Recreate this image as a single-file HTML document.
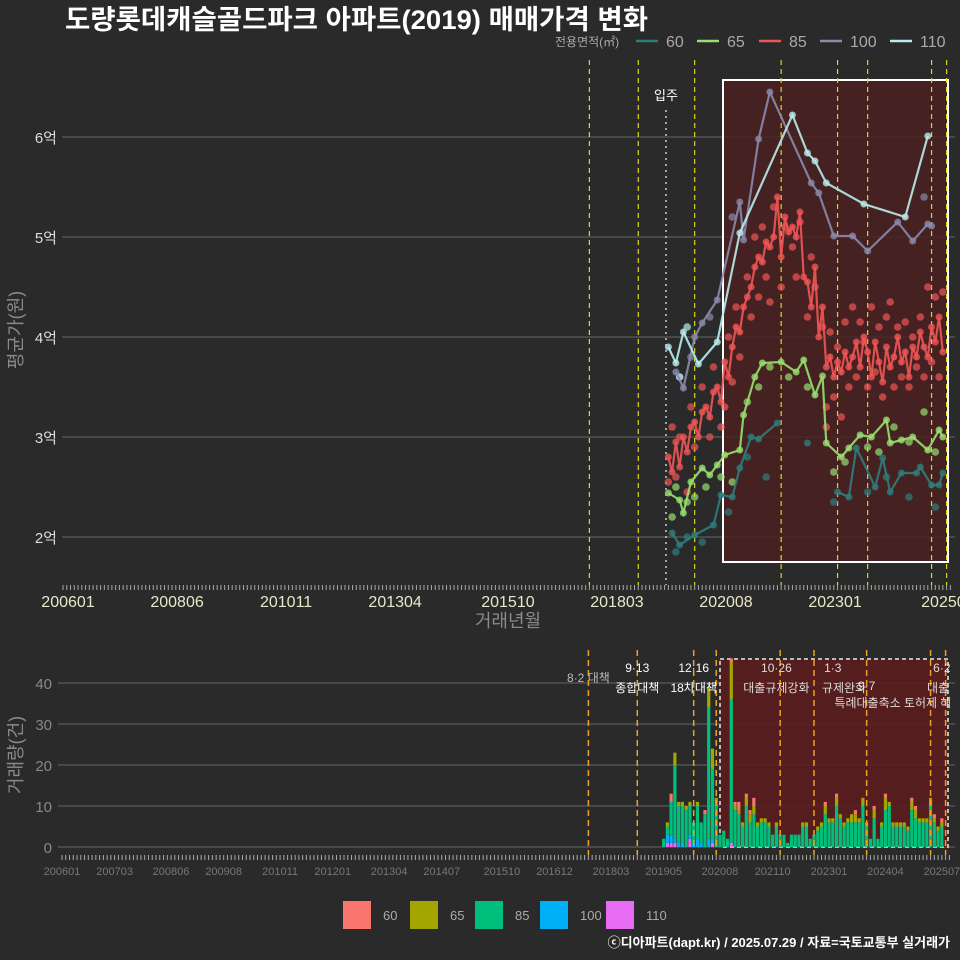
<!DOCTYPE html>
<html><head><meta charset="utf-8">
<style>
html,body{margin:0;padding:0;background:#2a2a2a;}
svg{display:block;font-family:"Liberation Sans","Noto Sans CJK KR",sans-serif;}
</style></head>
<body>
<svg id="chart" width="960" height="960" viewBox="0 0 960 960">
<rect x="0" y="0" width="960" height="960" fill="#2a2a2a"/>
<text x="65" y="29" fill="#ffffff" font-size="27" font-weight="bold" textLength="583" lengthAdjust="spacingAndGlyphs">도량롯데캐슬골드파크 아파트(2019) 매매가격 변화</text>
<g id="legendTop"></g>
<g id="topPanel"></g>
<g id="bottomPanel"></g>
<g id="legendBottom"></g>
<text x="950" y="947" text-anchor="end" fill="#ffffff" font-size="13" font-weight="bold">ⓒ디아파트(dapt.kr) / 2025.07.29 / 자료=국토교통부 실거래가</text>
</svg>
<script>
// ---------- data ----------
const areas = ["60","65","85","100","110"];
const lineColors = ["#2e7d7d","#98e070","#f05555","#8a8aac","#b8ecec"];
const barColors = ["#f8766d","#a3a500","#00bf7d","#00b0f6","#e76bf3"];
const topTickMonths = [0,29,58,87,117,146,175,204,234];
const topTickLabels = ["200601","200806","201011","201304","201510","201803","202008","202301","202507"];
const botTickMonths = [0,14,29,43,58,72,87,101,117,131,146,160,175,189,204,219,234];
const botTickLabels = ["200601","200703","200806","200908","201011","201201","201304","201407","201510","201612","201803","201905","202008","202110","202301","202404","202507"];
const yTicks = [2,3,4,5,6];
const yTickLabels = ["2억","3억","4억","5억","6억"];
const volTicks = [0,10,20,30,40];

const m60 = [162,164,168,173,175,178,180,183,185,190,198,206,209,211,216,218,220,223,227,228,231,233,234];
const v60 = [2.04,1.92,2.02,2.12,2.42,2.40,2.69,3.0,2.98,3.14,2.94,2.45,2.40,2.89,2.50,2.79,2.45,2.64,2.64,2.70,2.52,2.52,2.64];
const m65 = [161,164,165,167,170,172,174,176,180,181,184,186,191,195,197,200,202,203,207,209,212,215,219,220,223,226,230,233,234];
const v65 = [2.44,2.37,2.24,2.55,2.69,2.62,2.72,2.82,2.87,3.22,3.60,3.74,3.75,3.65,3.77,3.42,3.61,2.94,2.80,2.89,3.02,3.0,3.17,2.94,2.97,3.0,2.87,3.07,3.0];
const m85 = [161,162,163,164,165,166,167,168,169,170,171,172,173,174,175,176,177,178,179,180,181,182,183,184,185,186,187,188,189,190,191,192,193,194,195,196,197,198,199,200,201,202,203,204,205,206,207,208,209,210,211,212,213,214,215,216,217,218,219,220,221,222,223,224,225,226,227,228,229,230,231,232,233,234];
const v85 = [2.8,2.65,2.95,2.7,3.0,2.85,3.1,3.15,3.0,3.25,3.3,3.2,3.45,3.5,3.35,3.75,3.6,3.9,4.1,4.05,4.3,4.4,4.5,4.7,4.8,4.75,4.95,4.9,5.0,5.4,4.8,5.2,5.05,5.1,5.0,5.25,4.6,4.55,4.3,4.7,4.0,4.3,3.7,3.8,3.6,3.75,3.65,3.85,3.7,3.8,3.95,3.7,4.0,3.85,3.6,3.95,3.75,3.55,3.9,3.7,3.8,4.0,3.75,3.85,3.6,3.9,3.8,4.05,3.9,3.8,4.1,3.95,4.2,3.85];
const m100 = [163,165,168,170,174,180,181,185,188,199,201,205,210,214,222,226,230,231];
const v100 = [3.65,3.49,4.0,4.14,4.37,5.35,4.97,5.98,6.45,5.54,5.44,5.01,5.01,4.86,5.15,4.96,5.13,5.11];
const m110 = [161,163,165,169,174,180,194,198,200,203,213,224,230];
const v110 = [3.9,3.74,4.05,3.73,3.95,5.04,6.22,5.84,5.76,5.54,5.33,5.20,6.01];

const sm85 = [161,162,163,164,166,167,168,170,172,173,175,176,177,178,179,180,182,183,184,185,186,187,188,189,191,192,194,195,196,198,199,200,202,203,204,205,206,208,209,210,211,212,214,215,216,217,218,219,221,222,223,224,225,226,227,228,229,230,231,232,233,234,203,207,213,220];
const sv85 = [2.55,3.1,2.6,3.0,2.45,3.3,2.9,3.5,3.0,3.7,3.1,3.3,4.0,3.55,4.3,3.8,4.6,4.2,5.0,4.4,5.1,4.6,4.35,5.3,4.5,5.1,4.9,4.6,5.15,4.2,4.8,4.5,4.1,3.3,4.05,3.4,3.9,4.15,3.5,4.3,3.6,4.15,3.5,4.3,3.65,4.1,3.4,4.2,3.5,4.1,3.6,4.15,3.5,4.0,3.7,4.2,3.6,4.5,3.75,4.4,3.6,4.45,3.1,3.2,3.95,4.35];
const sm65 = [162,163,166,168,171,175,178,182,185,188,193,198,205,208,214,217,221,225,229,232];
const sv65 = [2.2,2.5,2.35,2.4,2.5,2.6,2.55,3.35,3.5,3.7,3.6,3.5,2.65,2.75,2.9,2.85,3.1,2.95,3.25,2.85];
const sm60 = [163,166,170,177,182,187,205,214,219,225,232];
const sv60 = [1.85,2.0,1.95,2.25,2.8,2.6,2.35,2.45,2.6,2.4,2.3];
const sm100 = [164,167,172,178,229];
const sv100 = [3.6,3.8,4.2,5.2,5.4];
const sm110 = [164,166];
const sv110 = [3.6,4.1];

const barMonths = [160,161,162,163,164,165,166,167,168,169,170,171,172,173,174,175,176,177,178,179,180,181,182,183,184,185,186,187,188,189,190,191,192,193,194,195,196,197,198,199,200,201,202,203,204,205,206,207,208,209,210,211,212,213,214,215,216,217,218,219,220,221,222,223,224,225,226,227,228,229,230,231,232,233,234];
const c60 = [0,0,2,0,0,0,0,0,0,0,0,1,0,0,0,0,0,0,1,1,2,0,1,1,2,0,0,0,0,0,0,0,0,0,0,0,0,0,0,0,0,0,0,1,0,0,1,0,0,0,0,1,0,0,0,0,1,0,0,1,0,0,0,0,0,0,1,1,0,0,0,0,1,0,1];
const c65 = [0,1,0,3,1,1,1,1,0,1,0,0,5,5,1,0,0,0,9,1,1,1,2,2,2,1,1,1,1,0,1,0,0,0,0,0,0,1,1,0,0,1,1,2,1,1,2,1,1,1,2,2,1,2,1,0,2,0,1,3,1,1,1,1,1,1,2,2,1,1,1,2,1,1,1];
const c85 = [2,2,8,18,9,9,9,7,5,8,5,8,32,17,11,3,4,2,35,9,8,5,10,6,8,5,6,6,5,3,5,3,3,1,3,3,3,5,5,2,3,4,5,8,6,6,10,7,5,6,6,6,6,10,5,2,7,2,5,9,10,5,5,5,5,4,9,7,6,6,6,10,6,4,5];
const c100 = [0,2,2,1,1,1,0,1,1,2,1,0,2,1,0,0,0,0,0,0,0,0,0,0,0,0,0,0,0,0,0,0,0,0,0,0,0,0,0,0,0,0,0,0,0,0,0,0,0,0,0,0,0,0,0,0,0,0,0,0,0,0,0,0,0,0,0,0,0,0,0,0,0,0,0];
const c110 = [0,1,1,1,0,0,0,2,0,0,0,0,0,1,0,0,0,0,1,0,0,0,0,0,0,0,0,0,0,0,0,0,0,0,0,0,0,0,0,0,0,0,0,0,0,0,0,0,0,0,0,0,0,0,0,0,0,0,0,0,0,0,0,0,0,0,0,0,0,0,0,0,0,0,0];

const topEventMonths = [140,153,168,191,206,214,231,235];
const botEventMonths = [140,153,168,174,191,200,214,231,235];
const eventLabels = [
 {m:140,t:"8·2 대책",y:682,c:"#bbbbbb"},
 {m:153,t:"9·13",y:672,c:"#ffffff"},
 {m:153,t:"종합대책",y:692,c:"#ffffff"},
 {m:168,t:"12·16",y:672,c:"#ffffff"},
 {m:168,t:"18차대책",y:692,c:"#ffffff"},
 {m:190,t:"10·26",y:672,c:"#dddddd"},
 {m:190,t:"대출규제강화",y:692,c:"#dddddd"},
 {m:205,t:"1·3",y:672,c:"#dddddd"},
 {m:208,t:"규제완화",y:692,c:"#dddddd"},
 {m:214,t:"9·7",y:690,c:"#dddddd"},
 {m:221,t:"특례대출축소 토허제 해",y:707,c:"#dddddd"},
 {m:234,t:"6·2",y:672,c:"#dddddd"},
 {m:233,t:"대출",y:692,c:"#dddddd"}
];

// ---------- scales ----------
const X = m => 63 + m*3.76;
const XB = m => 62 + m*3.76;
const Y = v => 737 - v*100;
const YB = c => 847 - c*4.1;
const NS = "http://www.w3.org/2000/svg";
function mk(tag, attrs, parent){const e=document.createElementNS(NS,tag);for(const k in attrs)e.setAttribute(k,attrs[k]);parent.appendChild(e);return e;}

// ---------- top panel ----------
const topG = document.getElementById('topPanel');
yTicks.forEach((v,i)=>{
  const g = mk('line',{x1:62,x2:955,y1:Y(v),y2:Y(v),stroke:'#5a5a5a','stroke-width':1.2},topG);
  
  
  const t = mk('text',{x:57,y:Y(v)+6,'text-anchor':'end',fill:'#dddddd','font-size':15},topG);
  t.textContent = yTickLabels[i];
  
  
});
const hl = mk('rect',{x:723,y:80,width:225,height:482,fill:'#4a2020','fill-opacity':0.85,stroke:'#ffffff','stroke-width':2},topG);


topEventMonths.forEach(m=>{
  const l = mk('line',{x1:X(m),x2:X(m),y1:60,y2:585,stroke:'#d8d820','stroke-width':1.2,'stroke-dasharray':'5,4'},topG);
  
  
});
const mv = mk('line',{x1:666,x2:666,y1:110,y2:585,stroke:'#cccccc','stroke-width':1.5,'stroke-dasharray':'2,4'},topG);


const mvt = mk('text',{x:666,y:100,'text-anchor':'middle',fill:'#ffffff','font-size':13},topG);
mvt.textContent='입주';



const scat = [[sm60,sv60],[sm65,sv65],[sm85,sv85],[sm100,sv100],[sm110,sv110]];
const lines = [[m60,v60],[m65,v65],[m85,v85],[m100,v100],[m110,v110]];
const gapBreak = [7,99,99,99,99];
scat.forEach((s,k)=>{
  s[0].forEach((m,i)=>{
    const c = mk('circle',{cx:X(m),cy:Y(s[1][i]),r:3.8,fill:lineColors[k],'fill-opacity':0.7},topG);
    
    
  });
});
lines.forEach((s,k)=>{
  let segs=[[]];
  s[0].forEach((m,i)=>{
    const cur=segs[segs.length-1];
    if(cur.length && m - s[0][i-1] > gapBreak[k]) segs.push([]);
    segs[segs.length-1].push([X(m),Y(s[1][i])]);
  });
  segs.forEach(seg=>{
    const p = mk('polyline',{points:seg.map(p=>p.join(',')).join(' '),fill:'none',stroke:lineColors[k],'stroke-width':2.2,'stroke-opacity':0.9},topG);
    
    
  });
  s[0].forEach((m,i)=>{
    const c = mk('circle',{cx:X(m),cy:Y(s[1][i]),r:3.5,fill:lineColors[k],'fill-opacity':0.8},topG);
    
    
  });
});
let d='';
for(let m=0;m<=236;m++){d+='M'+X(m)+' 585V590';}
const mt = mk('path',{d:d,stroke:'#aaaaaa','stroke-width':1},topG);


topTickMonths.forEach((m,i)=>{
  const t = mk('text',{x:X(m)+5,y:607,'text-anchor':'middle',fill:'#e8e8c8','font-size':16},topG);
  t.textContent = topTickLabels[i];
  
  
});
const xt = mk('text',{x:508,y:627,'text-anchor':'middle',fill:'#8a8a8a','font-size':18},topG);
xt.textContent='거래년월';


const yt = mk('text',{x:0,y:0,'text-anchor':'middle',fill:'#8a8a8a','font-size':18,transform:'translate(22,330) rotate(-90)'},topG);
yt.textContent='평균가(원)';



// top legend
const lt = document.getElementById('legendTop');
const lh = mk('text',{x:555,y:46,fill:'#aaaaaa','font-size':12},lt);
lh.textContent='전용면적(㎡)';


const legX=[636,697,759,820,890];
areas.forEach((a,k)=>{
  const l = mk('line',{x1:legX[k],x2:legX[k]+22,y1:41,y2:41,stroke:lineColors[k],'stroke-width':2.5},lt);
  
  
  const t = mk('text',{x:legX[k]+30,y:47,fill:'#aaaaaa','font-size':16},lt);
  t.textContent=a;
  
  
});

// ---------- bottom panel ----------
const botG = document.getElementById('bottomPanel');
volTicks.forEach(v=>{
  const g = mk('line',{x1:58,x2:955,y1:YB(v),y2:YB(v),stroke:'#5a5a5a','stroke-width':1.2},botG);
  
  
  const t = mk('text',{x:52,y:YB(v)+6,'text-anchor':'end',fill:'#888888','font-size':15},botG);
  t.textContent=v;
  
  
});
const hb = mk('rect',{x:720,y:659,width:228,height:188,fill:'#5a1c1c','fill-opacity':0.9,stroke:'#bbbbbb','stroke-width':2,'stroke-dasharray':'4,3'},botG);


const counts=[c60,c65,c85,c100,c110];
const order=[4,3,2,1,0];
barMonths.forEach((m,i)=>{
  let base=0;
  order.forEach(k=>{
    const c=counts[k][i]; if(!c) return;
    const r = mk('rect',{x:XB(m)-1.6,y:YB(base+c),width:3.2,height:c*4.1,fill:barColors[k]},botG);
    
    
    base+=c;
  });
});
botEventMonths.forEach(m=>{
  const l = mk('line',{x1:XB(m),x2:XB(m),y1:650,y2:855,stroke:'#f0a020','stroke-width':1.5,'stroke-dasharray':'6,4'},botG);
  
  
});
const clipP = mk('clipPath',{id:'bclip'},botG);
mk('rect',{x:0,y:640,width:950,height:100},clipP);
const lg = mk('g',{'clip-path':'url(#bclip)'},botG);
eventLabels.forEach(e=>{
  const t = mk('text',{x:XB(e.m),y:e.y,'text-anchor':'middle',fill:e.c,'font-size':12},lg);
  t.textContent=e.t;
  
  
});
let d2='';
for(let m=0;m<=236;m++){d2+='M'+XB(m)+' 855V860';}
const mt2 = mk('path',{d:d2,stroke:'#aaaaaa','stroke-width':1},botG);


botTickMonths.forEach((m,i)=>{
  const t = mk('text',{x:XB(m),y:875,'text-anchor':'middle',fill:'#777777','font-size':11},botG);
  t.textContent=botTickLabels[i];
  
  
});
const yb = mk('text',{x:0,y:0,'text-anchor':'middle',fill:'#8a8a8a','font-size':18,transform:'translate(22,755) rotate(-90)'},botG);
yb.textContent='거래량(건)';



// bottom legend
const lb = document.getElementById('legendBottom');
const bx=[343,410,475,540,606];
areas.forEach((a,k)=>{
  const r = mk('rect',{x:bx[k],y:901,width:28,height:28,fill:barColors[k]},lb);
  
  
  const t = mk('text',{x:bx[k]+40,y:920,fill:'#aaaaaa','font-size':13},lb);
  t.textContent=a;
  
  
});
</script>
</body></html>
